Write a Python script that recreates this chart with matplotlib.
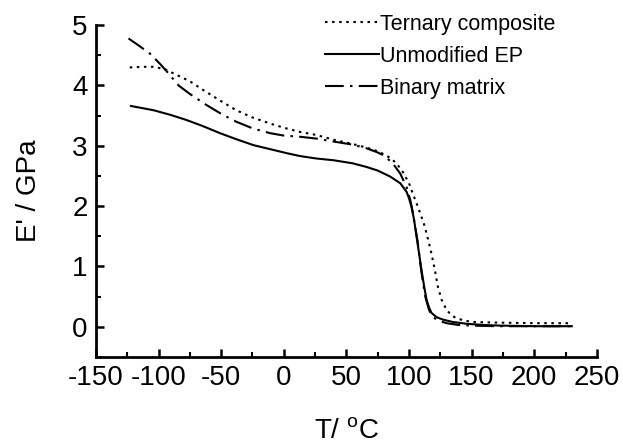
import matplotlib
matplotlib.use("Agg")
import matplotlib.pyplot as plt
from matplotlib.ticker import MultipleLocator

plt.rcParams['font.family'] = ['Liberation Sans', 'DejaVu Sans']
plt.rcParams['mathtext.fontset'] = 'custom'
plt.rcParams['mathtext.rm'] = 'Liberation Sans'
plt.rcParams['axes.unicode_minus'] = False

# Ternary composite (dotted)
t_ter = [-123, -110, -104, -95, -88, -75, -64, -50, -38, -25, -11, 0, 13, 26, 40, 55, 66, 75, 80, 85,
         90, 95, 100, 103, 106, 109, 112, 114, 117, 119, 121, 123, 126, 130, 134, 138, 145, 151, 170, 200, 230]
e_ter = [4.30, 4.31, 4.31, 4.27, 4.20, 4.07, 3.92, 3.74, 3.59, 3.47, 3.37, 3.30, 3.23, 3.18, 3.10, 3.03, 2.97, 2.91, 2.86, 2.80,
         2.71, 2.57, 2.38, 2.21, 2.05, 1.88, 1.70, 1.55, 1.30, 1.11, 0.90, 0.67, 0.45, 0.28, 0.19, 0.14, 0.10, 0.08, 0.07, 0.06, 0.06]

# Unmodified EP (solid)
t_ep = [-122, -104, -90, -78, -65, -51, -38, -24, -10, 2, 13, 26, 40, 55, 66, 75, 85, 93, 98, 100,
        102, 104, 106, 108, 110, 112, 114, 116, 118, 122, 127, 135, 146, 160, 173, 200, 230]
e_ep = [3.66, 3.59, 3.51, 3.43, 3.33, 3.21, 3.11, 3.01, 2.94, 2.88, 2.83, 2.79, 2.76, 2.71, 2.65, 2.59, 2.49, 2.38, 2.24, 2.13,
        1.99, 1.78, 1.50, 1.22, 0.94, 0.68, 0.45, 0.32, 0.23, 0.16, 0.12, 0.08, 0.05, 0.03, 0.02, 0.01, 0.01]

# Binary matrix (dash-dot)
t_bin = [-124, -115, -107, -98, -92, -84, -75, -62, -50, -38, -25, -11, 0, 13, 26, 40, 55, 66, 75, 80,
         87, 93, 98, 101, 103, 105, 107, 109, 111, 113, 116, 119, 124, 130, 140, 150, 170, 200, 230]
e_bin = [4.78, 4.65, 4.53, 4.34, 4.20, 4.00, 3.86, 3.68, 3.53, 3.40, 3.29, 3.21, 3.17, 3.15, 3.12, 3.07, 3.02, 2.96, 2.89, 2.84,
         2.71, 2.54, 2.32, 2.10, 1.90, 1.65, 1.40, 1.05, 0.75, 0.50, 0.28, 0.16, 0.10, 0.06, 0.03, 0.02, 0.01, 0.01, 0.01]

fig = plt.figure(figsize=(6.23, 4.46), dpi=100)
ax = fig.add_axes([0.154, 0.1996, 0.804, 0.744])

ax.plot(t_ter, e_ter, color='black', lw=1.5, linestyle=(0, (1.2, 2.2)), label='Ternary composite')
ax.plot(t_ep, e_ep, color='black', lw=1.5, linestyle='-', label='Unmodified EP')
ax.plot(t_bin, e_bin, color='black', lw=1.5, linestyle=(0, (9, 3, 1.2, 3)), label='Binary matrix')

ax.set_xlim(-150, 250)
ax.set_ylim(-0.5, 5)
ax.xaxis.set_major_locator(MultipleLocator(50))
ax.xaxis.set_minor_locator(MultipleLocator(25))
ax.yaxis.set_major_locator(MultipleLocator(1))
ax.yaxis.set_minor_locator(MultipleLocator(0.5))

for s in ['top', 'right']:
    ax.spines[s].set_visible(False)
for s in ['left', 'bottom']:
    ax.spines[s].set_linewidth(2)

ax.tick_params(which='major', direction='in', length=6, width=1.8, labelsize=20, pad=6)
ax.tick_params(which='minor', direction='in', length=3.5, width=1.5)

ax.set_xlabel(r'T/ $^{\mathrm{o}}$C', fontsize=20, labelpad=20)
ax.set_ylabel("E' / GPa", fontsize=20, labelpad=22)

ax.legend(loc='upper left', bbox_to_anchor=(325 / 623, 1 - 14 / 446), bbox_transform=fig.transFigure,
          frameon=False, fontsize=15.5, handlelength=2.5, handletextpad=0.05, labelspacing=0.5,
          borderpad=0, borderaxespad=0)

fig.savefig('out.png', dpi=100)
